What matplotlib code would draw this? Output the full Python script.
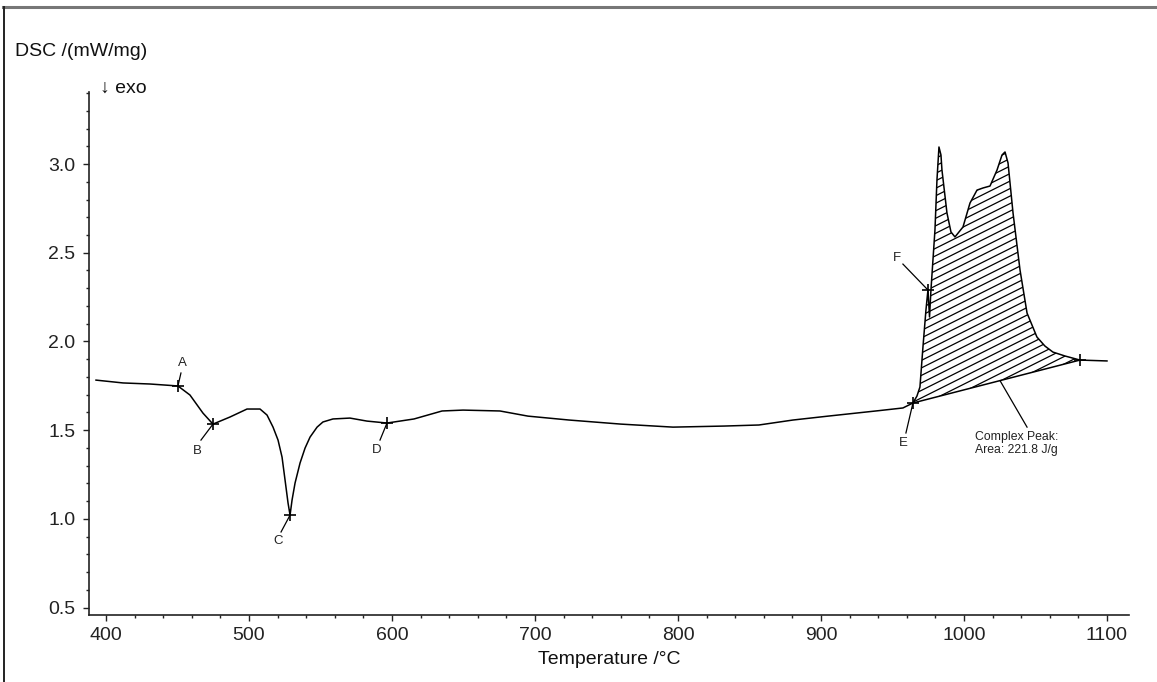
import numpy as np
import matplotlib
matplotlib.use("Agg")
import matplotlib.pyplot as plt
from matplotlib.ticker import MultipleLocator, FormatStrFormatter
from matplotlib.lines import Line2D

plt.rcParams['font.family'] = ['Liberation Sans', 'DejaVu Sans']

# ---- data ----
temperature = [393.0, 411.9, 430.8, 450.3, 458.7, 467.8, 474.8, 486.7, 498.6, 507.7,
               512.6, 516.8, 520.3, 523.1, 525.2, 527.3, 528.7, 530.1, 532.2, 535.7,
               539.2, 542.7, 547.6, 551.7, 558.7, 570.6, 582.5, 596.5, 615.4, 635.0,
               649.7, 675.5, 695.1, 723.8, 760.1, 796.5, 832.2, 856.6, 880.4, 904.9,
               940.6, 957.3, 964.3, 967.1, 969.2, 971.3, 973.4,
               974.8, 975.9, 976.9, 979.7, 981.1, 982.5, 983.9, 984.6, 988.1, 990.9,
               993.7, 999.3, 1004.2, 1009.1, 1013.3, 1018.2, 1023.1, 1026.6, 1028.7, 1030.8,
               1034.3, 1039.2, 1044.1, 1051.0, 1056.6, 1062.2, 1070.6, 1081.1, 1100.0]
dsc = [1.782, 1.766, 1.760, 1.749, 1.698, 1.596, 1.534, 1.574, 1.619, 1.619,
       1.585, 1.517, 1.444, 1.348, 1.219, 1.089, 1.021, 1.106, 1.202, 1.315,
       1.399, 1.461, 1.517, 1.546, 1.563, 1.568, 1.551, 1.540, 1.563, 1.608,
       1.613, 1.608, 1.579, 1.557, 1.534, 1.517, 1.523, 1.529, 1.557, 1.579,
       1.610, 1.625, 1.653, 1.692, 1.743, 1.968, 2.177,
       2.290, 2.138, 2.290, 2.628, 2.910, 3.096, 3.051, 2.966, 2.724, 2.617,
       2.589, 2.645, 2.780, 2.853, 2.865, 2.876, 2.966, 3.051, 3.068, 3.006,
       2.724, 2.402, 2.160, 2.025, 1.974, 1.940, 1.918, 1.895, 1.890]

point_labels = ['A', 'B', 'C', 'D', 'E', 'F']
point_T = [450.3, 474.8, 528.7, 596.5, 964.3, 974.8]
point_v = [1.749, 1.534, 1.021, 1.540, 1.653, 2.290]
label_T = [453.1, 463.6, 520.3, 589.5, 957.3, 953.1]
label_v = [1.878, 1.382, 0.875, 1.388, 1.427, 2.470]
leader_T = [452.4, 466.4, 522.4, 591.6, 959.4, 957.3]
leader_v = [1.822, 1.444, 0.926, 1.444, 1.484, 2.436]

peak_start = (964.3, 1.653)
peak_end = (1081.1, 1.895)
peak_text = "Complex Peak:\nArea: 221.8 J/g"

x_ticks = [400, 500, 600, 700, 800, 900, 1000, 1100]
y_ticks = [0.5, 1.0, 1.5, 2.0, 2.5, 3.0]

# ---- figure ----
W, H = 1157, 682
fig = plt.figure(figsize=(W / 100, H / 100), dpi=100)
ax = fig.add_axes([89 / W, 67 / H, 1040 / W, 523 / H])
ax.set_xlim(388.1, 1115.4)
ax.set_ylim(0.458, 3.406)
for s in ('top', 'right'):
    ax.spines[s].set_visible(False)
for s in ('left', 'bottom'):
    ax.spines[s].set_linewidth(1.2)
    ax.spines[s].set_color('#222222')

ax.set_xticks(x_ticks)
ax.set_yticks(y_ticks)
ax.xaxis.set_minor_locator(MultipleLocator(20))
ax.yaxis.set_minor_locator(MultipleLocator(0.1))
ax.yaxis.set_major_formatter(FormatStrFormatter('%.1f'))
ax.tick_params(which='major', direction='out', length=4.3, width=1.0, labelsize=14,
               colors='#222222')
ax.tick_params(which='minor', direction='out', length=2.2, width=1.0, colors='#222222')
ax.tick_params(axis='y', pad=5.5)
ax.tick_params(axis='x', pad=4.5)

ax.set_xlabel('Temperature /°C', fontsize=14, labelpad=5, color='#111111')

# main curve
T = np.array(temperature)
V = np.array(dsc)
ax.plot(T, V, color='black', lw=1.1, zorder=3)

# peak area with baseline
t0, v0 = peak_start
t1, v1 = peak_end
mask = (T >= t0) & (T <= t1)
Tseg = T[mask]
Vseg = V[mask]
Bseg = v0 + (Tseg - t0) * (v1 - v0) / (t1 - t0)
poly = ax.fill_between(Tseg, Bseg, Vseg, facecolor='none', edgecolor='none')
ax.plot([t0, t1], [v0, v1], color='black', lw=1.1, zorder=3)

# hatch lines (slope 0.5 in pixels, spacing 8 px) clipped to the area
fig.canvas.draw()
path = poly.get_paths()[0]
xpx_per = ax.bbox.width / (ax.get_xlim()[1] - ax.get_xlim()[0])
ypx_per = ax.bbox.height / (ax.get_ylim()[1] - ax.get_ylim()[0])
slope = 0.5 * xpx_per / ypx_per
dv = 7.5 / ypx_per
tA, tB = t0 - 5, t1 + 5
c = 0.5 - slope * (tB - tA)
while c < 3.5:
    ln, = ax.plot([tA, tB], [c, c + slope * (tB - tA)], color='black', lw=0.9, zorder=2)
    ln.set_clip_path(path, ax.transData)
    c += dv

# markers and labels
ax.plot(point_T + [t1], point_v + [v1], linestyle='none', marker='+', ms=9,
        mew=1.2, color='black', zorder=4)
for lab, pt, pv, lt, lv, qt, qv in zip(point_labels, point_T, point_v, label_T, label_v,
                                       leader_T, leader_v):
    ax.plot([pt, qt], [pv, qv], color='black', lw=0.9, zorder=3)
    ax.text(lt, lv, lab, fontsize=9.5, ha='center', va='center', color='#222222')

# complex peak annotation
ax.plot([1025.2, 1044.1], [1.779, 1.517], color='black', lw=0.9)
ax.text(1007.7, 1.497, peak_text, fontsize=8.8, ha='left', va='top',
        linespacing=1.15, color='#222222')

# header texts
fig.text(15 / W, 1 - 52 / H, 'DSC /(mW/mg)', fontsize=14, ha='left', va='center',
         color='#111111')
fig.text(100 / W, 1 - 88 / H, '↓ exo', fontsize=14, ha='left', va='center',
         color='#111111')

# frame lines
fig.add_artist(Line2D([3 / W, 1], [1 - 7 / H, 1 - 7 / H], transform=fig.transFigure,
                      color='#777777', lw=2.2))
fig.add_artist(Line2D([3.5 / W, 3.5 / W], [0, 1 - 7 / H], transform=fig.transFigure,
                      color='#222222', lw=1.4))

fig.savefig('out.png', dpi=100)
